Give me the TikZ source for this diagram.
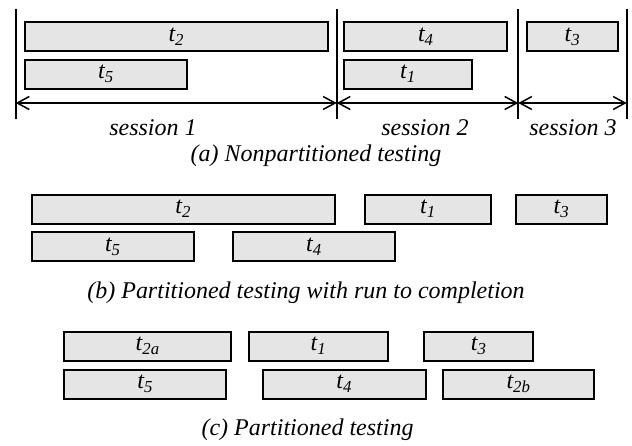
\documentclass[tikz,border=0pt]{standalone}
\usepackage{fontspec}
\setmainfont{Liberation Serif}
\usetikzlibrary{arrows.meta}

\tikzset{
  task/.style={draw=black, line width=2pt, fill=black!10, minimum height=29pt,
    inner sep=0pt, font=\fontsize{24}{28}\selectfont\itshape},
  caption/.style={inner sep=0pt, font=\fontsize{24}{28}\selectfont\itshape},
  divider/.style={line width=2pt, black},
  span/.style={line width=1.5pt, {Straight Barb[length=12pt,width=13pt]}-{Straight Barb[length=12pt,width=13pt]}}
}

\begin{document}
\begin{tikzpicture}[x=1pt,y=-1pt]
  \useasboundingbox (0,0) rectangle (632,445);

  % (a) nonpartitioned testing
  \foreach \x/\n in {15.7/0,336.7/1,518.3/2,626.7/3}
    {
      \draw[divider] (\x,9)--(\x,119);
      \coordinate (s\n) at (\x,103);
    }

  \node[task, minimum width=302.7pt] (a2) at (176.3,36.7) {t\textsubscript{2}};
  \node[task, minimum width=162pt]   (a5) at (106,74)     {t\textsubscript{5}};
  \node[task, minimum width=163pt]   (a4) at (425.8,36.7) {t\textsubscript{4}};
  \node[task, minimum width=127.4pt] (a1) at (408,74)     {t\textsubscript{1}};
  \node[task, minimum width=91.6pt]  (a3) at (572.5,36.7) {t\textsubscript{3}};

  \draw[span] (s0)--(s1);
  \draw[span] (s1)--(s2);
  \draw[span] (s2)--(s3);

  \node[caption] (ses1) at (153,128) {session 1};
  \node[caption] (ses2) at (425,128) {session 2};
  \node[caption] (ses3) at (573,128) {session 3};
  \node[caption] (capa) at (316,156) {(a) Nonpartitioned testing};

  % (b) partitioned testing, run to completion
  \node[task, minimum width=303pt]   (b2) at (183.2,209)   {t\textsubscript{2}};
  \node[task, minimum width=162.3pt] (b5) at (112.8,246.7) {t\textsubscript{5}};
  \node[task, minimum width=161.4pt] (b4) at (314,246.7)   {t\textsubscript{4}};
  \node[task, minimum width=126.6pt] (b1) at (428,209)     {t\textsubscript{1}};
  \node[task, minimum width=91pt]    (b3) at (561.5,209)   {t\textsubscript{3}};

  \node[caption] (capb) at (306,293) {(b) Partitioned testing with run to completion};

  % (c) partitioned testing
  \node[task, minimum width=166.7pt] (c2a) at (147.7,346) {t\textsubscript{2a}};
  \node[task, minimum width=161.7pt] (c5)  at (145.2,384) {t\textsubscript{5}};
  \node[task, minimum width=138.4pt] (c1)  at (318.5,346) {t\textsubscript{1}};
  \node[task, minimum width=163pt]   (c4)  at (344.2,384) {t\textsubscript{4}};
  \node[task, minimum width=109.3pt] (c3)  at (478.7,346) {t\textsubscript{3}};
  \node[task, minimum width=151.6pt] (c2b) at (518.5,384) {t\textsubscript{2b}};

  \node[caption] (capc) at (307.5,430) {(c) Partitioned testing};
\end{tikzpicture}
\end{document}
